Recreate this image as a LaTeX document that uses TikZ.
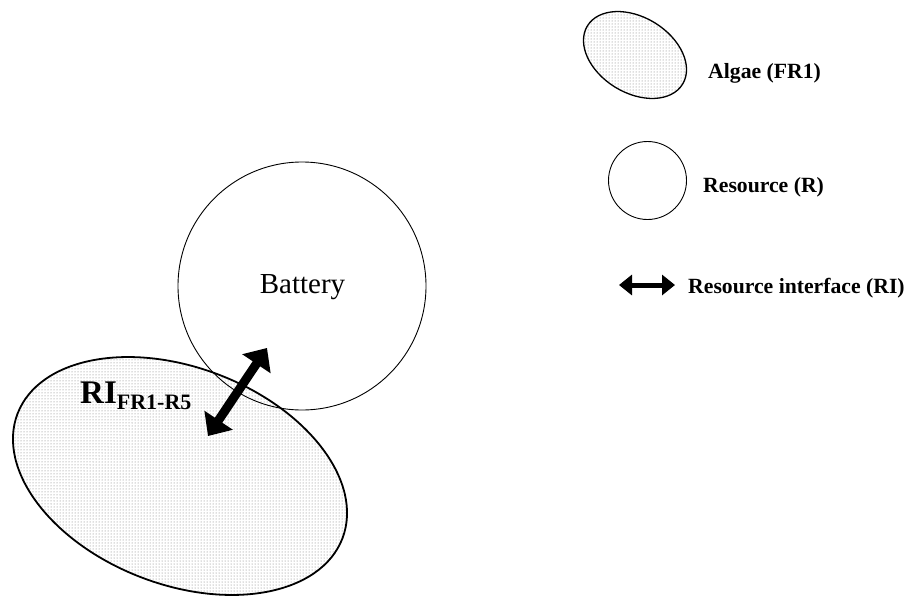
\documentclass[tikz,border=0pt]{standalone}
\usepackage{fontspec}
\setmainfont{Liberation Serif}
\usetikzlibrary{shapes.geometric,patterns,arrows.meta}

\begin{document}
\begin{tikzpicture}[x=1pt,y=-1pt,
  algaeshape/.style={ellipse, draw, pattern=dots, pattern color=black!55, inner sep=0pt},
  resshape/.style={circle, draw, line width=0.9pt, inner sep=0pt},
  legendtext/.style={font=\fontsize{21.7}{26}\selectfont\bfseries, anchor=base west, inner sep=0pt},
  interface/.style={{Triangle[length=19pt,width=33pt]}-{Triangle[length=19pt,width=33pt]}, line width=9pt},
  smallinterface/.style={{Triangle[length=13pt,width=20pt]}-{Triangle[length=13pt,width=20pt]}, line width=5pt},
]
\useasboundingbox (0,0) rectangle (910,597);

% functional resource: algae
\node[algaeshape, line width=1.8pt, minimum width=348pt, minimum height=217pt, rotate=-21] (algae) at (180,476) {};

% resource: battery
\node[resshape, minimum size=248pt] (battery) at (302,286) {};
\node[font=\fontsize{29}{34}\selectfont, anchor=base, inner sep=0pt] (batlabel) at (302.5,293) {Battery};

% resource interface between algae and battery
\coordinate (riA) at (208,436);
\coordinate (riB) at (267,348);
\draw[interface] (riA) -- (riB);
\node[anchor=base west, inner sep=0pt, font=\bfseries\fontsize{33}{38}\selectfont] (rilabel) at (80,403)
  {RI\raisebox{-6pt}{\fontsize{22}{26}\selectfont FR1-R5}};

% legend
\node[algaeshape, line width=1.3pt, minimum width=111.6pt, minimum height=75.6pt, rotate=-31.5] (legalgae) at (635,55) {};
\node[legendtext] (legalgaetext) at (708,78) {Algae (FR1)};

\node[resshape, minimum size=78pt] (legres) at (647.5,180.5) {};
\node[legendtext] (legrestext) at (703,192) {Resource (R)};

\coordinate (legriA) at (619,285);
\coordinate (legriB) at (675,285);
\draw[smallinterface] (legriA) -- (legriB);
\node[legendtext] (legritext) at (688,293) {Resource interface (RI)};
\end{tikzpicture}
\end{document}
